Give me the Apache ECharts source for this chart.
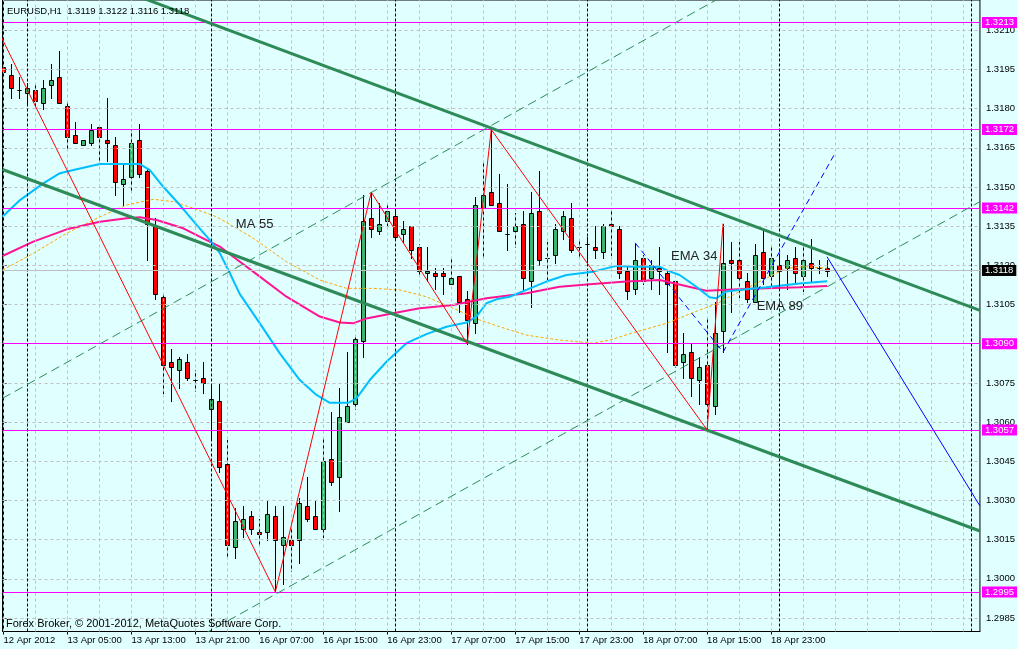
<!DOCTYPE html>
<html><head><meta charset="utf-8">
<script src="https://cdn.jsdelivr.net/npm/echarts@6/dist/echarts.min.js"></script>
<style>html,body{margin:0;padding:0;background:#E0FFFF;}#c{width:1018px;height:649px;}</style>
</head><body><div id="c"></div>
<script>
// ---------- data ----------
const symbolName = 'EURUSD,H1';
const copyright = 'Forex Broker, \u00A9 2001-2012, MetaQuotes Software Corp.';
const timeLabels = ['12 Apr 2012','13 Apr 05:00','13 Apr 13:00','13 Apr 21:00','16 Apr 07:00','16 Apr 15:00','16 Apr 23:00','17 Apr 07:00','17 Apr 15:00','17 Apr 23:00','18 Apr 07:00','18 Apr 15:00','18 Apr 23:00'];
const labelBars = [0,8,16,24,32,40,48,56,64,72,80,88,96];
const priceTicks = [1.2985,1.3000,1.3015,1.3030,1.3045,1.3060,1.3075,1.3090,1.3105,1.3120,1.3135,1.3150,1.3165,1.3180,1.3195,1.3210];
const gridBars = [0,4,8,12,16,20,24,28,32,36,40,44,48,52,56,60,64,68,72,76,80,84,88,92,96,100,104,108,112,116,120];
const separatorBars = [3,26,49,73,97,121];

const opens = [1.3196,1.3193,1.3187,1.3186,1.3187,1.3182,1.3189,1.3192,1.3181,1.3170,1.3166,1.3167,1.3173,1.3168,1.3166,1.3151,1.3154,1.3168,1.3156,1.3135,
1.3108,1.3083,1.3080,1.3083,1.3076,1.3077,1.3065,1.3068,1.3044,1.3012,1.3019,1.3024,1.3018,1.3018,1.3024,1.3013,1.3015,1.3015,1.3028,1.3024,
1.3019,1.3046,1.3039,1.3060,1.3067,1.3091,1.3138,1.3133,1.3137,1.3139,1.3132,1.3135,1.3127,1.3117,1.3117,1.3117,1.3113,1.3116,1.3107,1.3098,
1.3142,1.3148,1.3144,1.3132,1.3133,1.3136,1.3114,1.3141,1.3123,1.3124,1.3133,1.3138,1.3127,1.3128,1.3127,1.3125,1.3136,1.3134,1.3118,1.3111,
1.3123,1.3115,1.3119,1.3117,1.3114,1.3083,1.3087,1.3076,1.3082,1.3066,1.3095,1.3122,1.3122,1.3114,1.3106,1.3125,1.3116,1.3120,1.3119,1.3123,
1.3116,1.3121,1.3119,1.3119];
const highs = [1.3199,1.3197,1.3192,1.3190,1.3189,1.3191,1.3197,1.3202,1.3182,1.3175,1.3168,1.3174,1.3173,1.3184,1.3169,1.3159,1.3172,1.3174,1.3157,1.3138,
1.3109,1.3088,1.3085,1.3086,1.3080,1.3083,1.3074,1.3075,1.3053,1.3027,1.3028,1.3026,1.3023,1.3030,1.3028,1.3028,1.3019,1.3031,1.3039,1.3030,
1.3054,1.3064,1.3073,1.3087,1.3093,1.3147,1.3148,1.3144,1.3143,1.3142,1.3137,1.3135,1.3128,1.3127,1.3119,1.3119,1.3123,1.3116,1.3110,1.3146,
1.3160,1.3172,1.3155,1.3151,1.3140,1.3141,1.3148,1.3156,1.3129,1.3136,1.3141,1.3144,1.3130,1.3131,1.3135,1.3136,1.3141,1.3135,1.3120,1.3128,
1.3124,1.3122,1.3127,1.3118,1.3114,1.3094,1.3090,1.3085,1.3100,1.3106,1.3136,1.3129,1.3129,1.3117,1.3128,1.3134,1.3127,1.3124,1.3124,1.3127,
1.3127,1.3130,1.3122,1.3122];
const lows = [1.3187,1.3184,1.3184,1.3182,1.3181,1.3180,1.3184,1.3182,1.3165,1.3167,1.3166,1.3166,1.3159,1.3160,1.3147,1.3143,1.3148,1.3154,1.3122,1.3107,
1.3071,1.3068,1.3073,1.3076,1.3072,1.3071,1.3054,1.3041,1.3008,1.3008,1.3016,1.3017,1.3013,1.3015,1.2995,1.2998,1.3003,1.3006,1.3022,1.3019,
1.3016,1.3036,1.3026,1.3060,1.3065,1.3085,1.3131,1.3132,1.3135,1.3130,1.3129,1.3123,1.3116,1.3114,1.3111,1.3109,1.3113,1.3102,1.3090,1.3094,
1.3123,1.3143,1.3133,1.3126,1.3127,1.3111,1.3104,1.3120,1.3114,1.3121,1.3130,1.3125,1.3123,1.3121,1.3123,1.3123,1.3124,1.3115,1.3107,1.3109,
1.3113,1.3111,1.3109,1.3087,1.3081,1.3077,1.3070,1.3067,1.3057,1.3063,1.3087,1.3102,1.3108,1.3106,1.3106,1.3113,1.3112,1.3111,1.3111,1.3113,
1.3110,1.3114,1.3117,1.3116];
const closes = [1.3194,1.3188,1.3187,1.3188,1.3183,1.3188,1.3191,1.3182,1.3169,1.3167,1.3168,1.3172,1.3169,1.3167,1.3152,1.3153,1.3167,1.3155,1.3136,1.3109,
1.3082,1.3081,1.3084,1.3077,1.3076,1.3075,1.3069,1.3043,1.3013,1.3022,1.3023,1.3019,1.3017,1.3025,1.3015,1.3016,1.3013,1.3029,1.3023,1.3019,
1.3045,1.3037,1.3062,1.3066,1.3092,1.3137,1.3134,1.3136,1.3141,1.3131,1.3134,1.3126,1.3118,1.3118,1.3116,1.3116,1.3115,1.3106,1.3099,1.3143,
1.3147,1.3143,1.3133,1.3132,1.3135,1.3115,1.3140,1.3122,1.3123,1.3134,1.3139,1.3126,1.3127,1.3128,1.3126,1.3135,1.3135,1.3117,1.3110,1.3122,
1.3114,1.3120,1.3118,1.3113,1.3082,1.3086,1.3077,1.3081,1.3067,1.3094,1.3121,1.3121,1.3115,1.3107,1.3124,1.3115,1.3123,1.3118,1.3122,1.3117,
1.3122,1.3119,1.3119,1.3118];

const ema34 = [[-0.125,1.31386],[2.06,1.3145],[4.98,1.31514],[7.06,1.31553],[9.15,1.31568],[12.06,1.31588],[17.06,1.31588],[18.31,1.31565],[19.98,1.31501],[22.06,1.31431],[24.15,1.31355],[25.81,1.31297],[27.06,1.31247],[28.31,1.3117],[29.56,1.3109],[32.06,1.30978],[34.56,1.30863],[37.06,1.30761],[39.15,1.30704],[40.81,1.30674],[43.1,1.30674],[44.15,1.30691],[45.81,1.30761],[47.9,1.30831],[50.4,1.30902],[52.9,1.30937],[55.4,1.30965],[57.9,1.30981],[59.15,1.31004],[60.4,1.31055],[61.65,1.3107],[63.31,1.3108],[65.4,1.31106],[67.9,1.31138],[70.4,1.31163],[73.73,1.31176],[76.65,1.31198],[78.73,1.31195],[82.06,1.31195],[82.9,1.31182],[84.56,1.31163],[86.65,1.31118],[88.31,1.31078],[89.15,1.31074],[90.4,1.311],[92.06,1.31106],[95.4,1.31116],[99.56,1.31131],[103,1.31139]];
const ema89 = [[-0.125,1.31236],[3.73,1.31291],[7.9,1.31338],[12.06,1.31367],[15.4,1.3138],[17.06,1.31384],[19.15,1.31374],[22.48,1.31342],[25.4,1.31297],[27.06,1.31272],[28.73,1.31233],[31.23,1.31176],[35.4,1.3108],[39.56,1.31004],[42.06,1.30981],[43.73,1.30978],[45.4,1.30997],[48.73,1.31017],[52.06,1.31036],[56.23,1.31048],[60.4,1.31074],[65.4,1.31093],[69.56,1.31118],[73.73,1.31129],[77.9,1.31138],[82.06,1.31144],[82.9,1.31138],[87.9,1.31103],[91.23,1.31108],[95.4,1.31112],[99.56,1.31116],[103,1.31121]];
const ma55 = [[-0.125,1.31182],[3.73,1.31246],[7.9,1.31323],[12.06,1.31386],[15.4,1.31431],[18.73,1.31453],[21.23,1.31444],[23.73,1.31419],[26.65,1.31386],[29.15,1.31342],[31.23,1.31304],[35.4,1.31214],[39.56,1.31144],[42.9,1.31112],[46.23,1.31112],[49.56,1.31106],[52.9,1.3108],[56.23,1.31036],[59.56,1.30991],[62.06,1.30965],[65.4,1.30933],[69.56,1.30914],[73.73,1.30902],[75.81,1.30914],[78.73,1.30942],[82.9,1.30978],[87.06,1.31029],[89.15,1.31052],[91.23,1.31087],[93.31,1.31118],[95.4,1.31151],[97.9,1.31189],[100.4,1.31195],[103,1.31189]];
const maLabels = [['MA 55',29.06,1.31355],['EMA 34',83.5,1.31236],['EMA 89',94.2,1.31044]];

const levels = [1.3213,1.3172,1.3142,1.3090,1.3057,1.2995];
const bidPrice = 1.3118;
const zigzag = [[-1,1.32119],[34,1.2995],[46,1.3148],[58,1.3090],[61,1.3172],[88,1.3057],[90,1.3136]];
const channelUpper = [[15,1.32251],[122.125,1.31028]];
const channelLower = [[-0.125,1.31567],[122.125,1.30183]];
const dashUpper = [[-0.125,1.30691],[90,1.32231]];
const dashLower = [[25,1.29787],[122.125,1.31444]];
const blueDashed = [[79,1.31286],[90,1.30868],[104,1.31629]];
const blueSolid = [[103,1.31233],[122.125,1.30279]];

// ---------- chart ----------
const FONT = "'Liberation Sans',Arial,sans-serif";
const FS = 9.5;
const candleData = opens.map((o,i)=>[i,o,closes[i],lows[i],highs[i]]);
const last = candleData.length-1;
const header = symbolName + '  ' + [opens[last],highs[last],lows[last],closes[last]].map(v=>v.toFixed(4)).join(' ');

function lineSeries(data, color, width, type, z){
  return {type:'line', data, showSymbol:false, symbol:'none', clip:true, silent:true, z,
    lineStyle:{color, width, type}, animation:false};
}
function markSeries(items, color, type, z){
  return {type:'line', data:[], z, silent:true,
    markLine:{silent:true, precision:6, symbol:['none','none'], animation:false, label:{show:false},
      lineStyle:{color, width:1, type}, emphasis:{disabled:true}, data:items}};
}
function boxLabel(bg){
  return {show:true, position:'end', distance:2, formatter:'{b}', backgroundColor:bg, color:'#fff',
    padding:[1,3,0,3], lineHeight:10, fontSize:FS, fontFamily:FONT};
}

const chart = echarts.init(document.getElementById('c'), null, {renderer:'canvas'});
chart.setOption({
  animation:false,
  backgroundColor:'#E0FFFF',
  textStyle:{fontFamily:FONT},
  grid:{left:2.5, right:37.5, top:0, bottom:17.5, show:true, borderColor:'#000', borderWidth:1, backgroundColor:'#E0FFFF'},
  xAxis:{type:'value', min:-0.125, max:122.125, position:'bottom',
    axisLine:{show:true, lineStyle:{color:'#000', width:1}},
    axisTick:{show:true, length:3, customValues:labelBars, lineStyle:{color:'#000'}},
    axisLabel:{show:true, customValues:labelBars, align:'left', margin:4, color:'#000', fontSize:FS, fontFamily:FONT,
      formatter:v=>timeLabels[labelBars.indexOf(Math.round(v))] || ''},
    splitLine:{show:false}},
  yAxis:{type:'value', min:1.297983, max:1.32216, position:'right', scale:true,
    axisLine:{show:true, lineStyle:{color:'#000', width:1}},
    axisTick:{show:true, length:3, customValues:priceTicks, lineStyle:{color:'#000'}},
    axisLabel:{show:true, customValues:priceTicks, margin:6, color:'#000', fontSize:FS, fontFamily:FONT,
      formatter:v=>v.toFixed(4)},
    splitLine:{show:false}},
  graphic:[
    {type:'text', x:7, y:11, z:100, style:{text:header, font:FS+'px '+FONT, fill:'#000', textVerticalAlign:'middle'}},
    {type:'text', x:6, y:623.5, z:100, style:{text:copyright, font:'11px '+FONT, fill:'#000', textVerticalAlign:'middle'}}
  ],
  series:[
    markSeries(priceTicks.map(v=>({yAxis:v})), '#C0C0C0', [3,3], 1),
    markSeries(gridBars.map(v=>({xAxis:v})), '#C0C0C0', [3,3], 1),
    markSeries(separatorBars.map(v=>({xAxis:v})), '#000', [3,2], 1),
    {type:'line', data:[], z:2, silent:true,
      markLine:{silent:true, precision:6, symbol:['none','none'], animation:false,
        lineStyle:{color:'#C0C0C0', width:1, type:'solid'},
        label:boxLabel('#000'),
        data:[{yAxis:bidPrice, name:bidPrice.toFixed(4)}]}},
    {type:'custom', z:3, clip:true, silent:true, data:candleData,
      encode:{x:0, y:[1,2,3,4]},
      renderItem:(params, api)=>{
        const i=api.value(0), o=api.value(1), c=api.value(2), l=api.value(3), h=api.value(4);
        const pO=api.coord([i,o]), pC=api.coord([i,c]), pL=api.coord([i,l]), pH=api.coord([i,h]);
        const x=Math.floor(pO[0])+0.5;
        const yT=Math.round(Math.min(pO[1],pC[1]))+0.5, yB=Math.round(Math.max(pO[1],pC[1]))+0.5;
        const bull=c>o;
        return {type:'group', children:[
          {type:'line', shape:{x1:x, y1:Math.round(pH[1]), x2:x, y2:Math.round(pL[1])+1}, style:{stroke:'#000', lineWidth:1}},
          {type:'rect', shape:{x:x-2, y:yT, width:4, height:yB-yT}, style:{fill: bull?'#3CB371':'#FF0000', stroke:'#000', lineWidth:1}}
        ]};
      }},
    lineSeries(ma55, '#FFA500', 1, [3,2], 4),
    lineSeries(ema89, '#FF1493', 2, 'solid', 4),
    lineSeries(ema34, '#00BFFF', 2, 'solid', 4),
    {type:'line', data:[], z:5, silent:true,
      markLine:{silent:true, precision:6, symbol:['none','none'], animation:false,
        lineStyle:{color:'#FF00FF', width:1, type:'solid'},
        label:boxLabel('#FF00FF'),
        data:levels.map(v=>({yAxis:v, name:v.toFixed(4)}))}},
    lineSeries(channelUpper, '#2E8B57', 3, 'solid', 5),
    lineSeries(channelLower, '#2E8B57', 3, 'solid', 5),
    lineSeries(dashUpper, '#2E8B57', 1, [9,5], 5),
    lineSeries(dashLower, '#2E8B57', 1, [9,5], 5),
    lineSeries(zigzag, '#FF0000', 1, 'solid', 5),
    lineSeries(blueDashed, '#0000FF', 1, [6,4], 5),
    lineSeries(blueSolid, '#0000FF', 1, 'solid', 5),
    {type:'custom', z:6, clip:false, silent:true, data:maLabels.map(d=>[d[1],d[2]]),
      encode:{x:0, y:1},
      renderItem:(params, api)=>{
        const p=api.coord([api.value(0), api.value(1)]);
        return {type:'text', x:p[0], y:p[1], style:{text:maLabels[params.dataIndex][0], font:"13px 'Liberation Sans',Arial,sans-serif", fill:'#222', textVerticalAlign:'middle', textAlign:'left'}};
      }}
  ]
});
</script></body></html>
